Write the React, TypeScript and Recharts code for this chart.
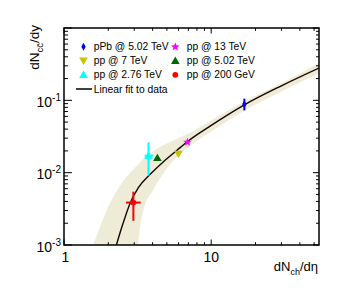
import React from 'react';
import {
  ComposedChart,
  XAxis,
  YAxis,
  Area,
  Line,
  Scatter,
  ErrorBar,
  ReferenceArea,
  Legend,
} from 'recharts';

const FONT = '"Liberation Sans", Arial, Helvetica, sans-serif';
const W = 355;
const H = 292;
const PL = 64;
const PR = 319;
const PT = 28;
const PB = 245;

// ---- axis ticks ----
const xTicks = [1, 2, 3, 4, 5, 6, 7, 8, 9, 10, 20, 30, 40, 50];
const yTicks = [
  0.001, 0.002, 0.003, 0.004, 0.005, 0.006, 0.007, 0.008, 0.009,
  0.01, 0.02, 0.03, 0.04, 0.05, 0.06, 0.07, 0.08, 0.09,
  0.1, 0.2, 0.3, 0.4, 0.5, 0.6, 0.7, 0.8, 0.9, 1,
];

// ---- fit line ----
const fitX = [2.27, 2.5, 2.8, 3.2, 3.85, 4.74, 5.84, 7.01, 10, 16.8, 30, 54];
const fitY = [0.001, 0.0019, 0.0037, 0.0062, 0.0095, 0.0142, 0.0203, 0.0276, 0.045, 0.0866, 0.159, 0.28];

// ---- uncertainty band ----
const bandX = [1.58, 2.08, 2.53, 3.0, 3.19, 3.5, 4.0, 5.0, 7.0, 10, 16.8, 30, 54];
const bandHigh = [0.001, 0.004, 0.0077, 0.0114, 0.0129, 0.016, 0.0196, 0.0253, 0.0348, 0.0527, 0.0968, 0.172, 0.327];
const bandLow = [0.00001, 0.00001, 0.00001, 0.0001, 0.001, 0.0033, 0.0056, 0.0114, 0.0226, 0.0371, 0.0726, 0.133, 0.237];

// ---- measurements ----
const pPb502 = [{ x: 16.8, y: 0.088, ey: [0.0154, 0.0176] }];
const pp13 = [{ x: 6.9, y: 0.0264, ey: [0.0015, 0.0015], ex: [0.15, 0.15] }];
const pp7 = [{ x: 5.99, y: 0.0182 }];
const pp502 = [{ x: 4.31, y: 0.016 }];
const pp276 = [{ x: 3.75, y: 0.0172, ey: [0.0081, 0.009], ex: [0.22, 0.28] }];
const pp200 = [{ x: 2.96, y: 0.00386, ey: [0.0017, 0.0016], ex: [0.32, 0.36] }];

const legendNames = [
  'pPb @ 5.02 TeV',
  'pp @ 13 TeV',
  'pp @ 7 TeV',
  'pp @ 5.02 TeV',
  'pp @ 2.76 TeV',
  'pp @ 200 GeV',
  'Linear fit to data',
];

const C_BLUE = '#0000ff';
const C_MAG = '#ff00ff';
const C_YEL = '#c4c400';
const C_GRN = '#006600';
const C_CYAN = '#00ffff';
const C_RED = '#ff0000';
const C_BAND = '#eeebd7';

const fitData = fitX.map((x, i) => ({ x, y: fitY[i] }));
const bandData = bandX.map((x, i) => ({ x, band: [bandLow[i], bandHigh[i]] }));

// ---- marker shapes ----
const Diamond = ({ cx, cy, color }: any) => (
  <polygon points={`${cx},${cy - 4} ${cx + 2.2},${cy} ${cx},${cy + 4} ${cx - 2.2},${cy}`} fill={color} />
);
const Star = ({ cx, cy, color }: any) => {
  const pts: string[] = [];
  for (let i = 0; i < 10; i++) {
    const r = i % 2 === 0 ? 4.5 : 1.9;
    const a = -Math.PI / 2 + (i * Math.PI) / 5;
    pts.push(`${cx + r * Math.cos(a)},${cy + r * Math.sin(a)}`);
  }
  return <polygon points={pts.join(' ')} fill={color} />;
};
const TriUp = ({ cx, cy, color }: any) => (
  <polygon points={`${cx},${cy - 4.2} ${cx + 4.3},${cy + 3.2} ${cx - 4.3},${cy + 3.2}`} fill={color} />
);
const TriDown = ({ cx, cy, color }: any) => (
  <polygon points={`${cx},${cy + 4.2} ${cx + 4.3},${cy - 3.2} ${cx - 4.3},${cy - 3.2}`} fill={color} />
);
const Circle = ({ cx, cy, color }: any) => <circle cx={cx} cy={cy} r={2.9} fill={color} />;

const isDecade = (v: number) => Math.abs(Math.log10(v) - Math.round(Math.log10(v))) < 1e-6;

const XTick = (props: any) => {
  const { x, payload } = props;
  const v = payload.value;
  const major = isDecade(v);
  const len = major ? 5.5 : 2.8;
  return (
    <g>
      <line x1={x} x2={x} y1={PB} y2={PB - len} stroke="#000" strokeWidth={1} />
      <line x1={x} x2={x} y1={PT} y2={PT + len} stroke="#000" strokeWidth={1} />
      {major && (
        <text x={x + (v === 1 ? 1.5 : 0)} y={262} textAnchor="middle" fontSize={14} fontFamily={FONT} fill="#000">
          {v}
        </text>
      )}
    </g>
  );
};

const YTick = (props: any) => {
  const { y, payload } = props;
  const v = payload.value;
  const major = isDecade(v);
  const e = Math.round(Math.log10(v));
  return (
    <g>
      <line x1={PL} x2={PL + (major ? 8 : 4)} y1={y} y2={y} stroke="#000" strokeWidth={1} />
      <line x1={PR} x2={PR - (major ? 6 : 3)} y1={y} y2={y} stroke="#000" strokeWidth={1} />
      {major && e < 0 && (
        <text x={61} y={y + 6.5} textAnchor="end" fontSize={14} fontFamily={FONT} fill="#000">
          10
          <tspan dy={-5.7} fontSize={10}>{`${e}`}</tspan>
        </text>
      )}
    </g>
  );
};

const LegendContent = () => {
  const rows = [50.3, 64.3, 78.3];
  const c1m = 83.5;
  const c1t = 93.7;
  const c2m = 175.3;
  const c2t = 186.7;
  const txt = (x: number, y: number, s: string) => (
    <text x={x} y={y} fontSize={10.3} fontFamily={FONT} fill="#000">
      {s}
    </text>
  );
  return (
    <svg width={W} height={100} style={{ display: 'block' }}>
      <Diamond cx={c1m} cy={rows[0] - 3.5} color={C_BLUE} />
      {txt(c1t, rows[0], legendNames[0])}
      <Star cx={c2m} cy={rows[0] - 3.5} color={C_MAG} />
      {txt(c2t, rows[0], legendNames[1])}
      <TriDown cx={c1m} cy={rows[1] - 3.5} color={C_YEL} />
      {txt(c1t, rows[1], legendNames[2])}
      <TriUp cx={c2m} cy={rows[1] - 3.5} color={C_GRN} />
      {txt(c2t, rows[1], legendNames[3])}
      <TriUp cx={c1m} cy={rows[2] - 3.5} color={C_CYAN} />
      {txt(c1t, rows[2], legendNames[4])}
      <Circle cx={c2m} cy={rows[2] - 3.5} color={C_RED} />
      {txt(c2t, rows[2], legendNames[5])}
      <line x1={76} x2={92} y1={89} y2={89} stroke="#000" strokeWidth={1.5} />
      {txt(c1t, 92.7, legendNames[6])}
    </svg>
  );
};

export default function App() {
  return (
    <div style={{ position: 'absolute', left: 0, top: 0, width: W, height: H, background: '#fff' }}>
      <ComposedChart width={W} height={H} margin={{ top: PT, right: W - PR, bottom: 0, left: 0 }}>
        <XAxis
          dataKey="x"
          type="number"
          scale="log"
          domain={[1, 54]}
          allowDataOverflow
          ticks={xTicks}
          interval={0}
          height={H - PB}
          axisLine={false}
          tickLine={false}
          tickSize={0}
          tickMargin={0}
          tick={<XTick />}
        />
        <YAxis
          dataKey="y"
          type="number"
          scale="log"
          domain={[0.001, 1]}
          allowDataOverflow
          ticks={yTicks}
          interval={0}
          width={PL}
          axisLine={false}
          tickLine={false}
          tickSize={0}
          tickMargin={0}
          tick={<YTick />}
        />
        <Area
          data={bandData}
          dataKey="band"
          type="monotone"
          stroke="none"
          fill={C_BAND}
          fillOpacity={1}
          isAnimationActive={false}
          legendType="none"
        />
        <Line
          data={fitData}
          dataKey="y"
          type="monotone"
          stroke="#150505"
          strokeWidth={1.4}
          dot={false}
          isAnimationActive={false}
          name={legendNames[6]}
        />
        <Scatter data={pPb502} dataKey="y" name={legendNames[0]} isAnimationActive={false} shape={(p: any) => <Diamond {...p} color={C_BLUE} />}>
          <ErrorBar dataKey="ey" direction="y" width={0} stroke={C_BLUE} strokeWidth={2} />
        </Scatter>
        <Scatter data={pp13} dataKey="y" name={legendNames[1]} isAnimationActive={false} shape={(p: any) => <Star {...p} color={C_MAG} />}>
          <ErrorBar dataKey="ey" direction="y" width={0} stroke={C_MAG} strokeWidth={1.5} />
          <ErrorBar dataKey="ex" direction="x" width={0} stroke={C_MAG} strokeWidth={1.5} />
        </Scatter>
        <Scatter data={pp7} dataKey="y" name={legendNames[2]} isAnimationActive={false} shape={(p: any) => <TriDown {...p} color={C_YEL} />} />
        <Scatter data={pp502} dataKey="y" name={legendNames[3]} isAnimationActive={false} shape={(p: any) => <TriUp {...p} color={C_GRN} />} />
        <Scatter data={pp276} dataKey="y" name={legendNames[4]} isAnimationActive={false} shape={(p: any) => <TriUp {...p} color={C_CYAN} />}>
          <ErrorBar dataKey="ey" direction="y" width={0} stroke={C_CYAN} strokeWidth={2} />
          <ErrorBar dataKey="ex" direction="x" width={0} stroke={C_CYAN} strokeWidth={2} />
        </Scatter>
        <Scatter data={pp200} dataKey="y" name={legendNames[5]} isAnimationActive={false} shape={(p: any) => <Circle {...p} color={C_RED} />}>
          <ErrorBar dataKey="ey" direction="y" width={0} stroke={C_RED} strokeWidth={2} />
          <ErrorBar dataKey="ex" direction="x" width={0} stroke={C_RED} strokeWidth={2} />
        </Scatter>
        <ReferenceArea x1={1} x2={54} y1={0.001} y2={1} fill="none" stroke="#000" strokeWidth={1.5} ifOverflow="visible" />
        <Legend
          layout="vertical"
          align="center"
          verticalAlign="middle"
          wrapperStyle={{ position: 'absolute', left: 0, top: 0, width: W, height: 100, margin: 0 }}
          content={<LegendContent />}
        />
        <text x={39} y={25} transform="rotate(-90 39 25)" textAnchor="end" fontSize={13.5} fontFamily={FONT} fill="#000">
          dN
          <tspan dy={4} fontSize={9.5}>{'cc\u0304'}</tspan>
          <tspan dy={-4} fontSize={13.5}>/dy</tspan>
        </text>
        <text x={318} y={271} textAnchor="end" fontSize={13} fontFamily={FONT} fill="#000">
          dN
          <tspan dy={4} fontSize={9}>ch</tspan>
          <tspan dy={-4} fontSize={13}>/dη</tspan>
        </text>
      </ComposedChart>
    </div>
  );
}
